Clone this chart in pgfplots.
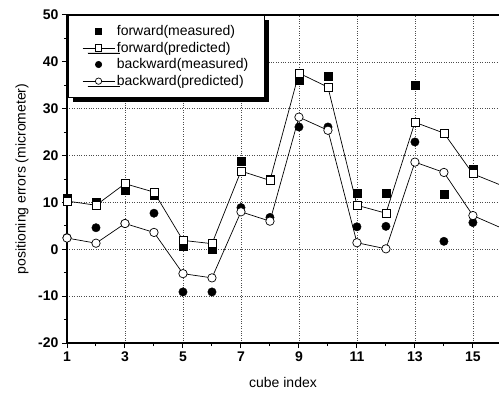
\documentclass[border=0pt]{standalone}
\usepackage{pgfplots}
\pgfplotsset{compat=1.18}
\usepackage{fontspec}
\setmainfont{Liberation Sans}
\usetikzlibrary{shadows}
\begin{document}
\begin{tikzpicture}
\begin{axis}[
  scale only axis,
  width=432pt, height=328pt,
  xmin=1, xmax=15.9, ymin=-20, ymax=50,
  axis x line*=box, axis y line*=left,
  xtick={1,3,...,15}, minor xtick={2,4,...,16},
  ytick={-20,-10,...,50}, minor ytick={-15,-5,...,45},
  xtick pos=bottom, ytick pos=left,
  tick align=outside,
  major tick length=5pt, minor tick length=3pt,
  every tick/.style={black, line width=1pt},
  axis line style={line width=1.6pt},
  grid=major,
  major grid style={black!70, dotted, line width=0.6pt},
  /pgf/number format/assume math mode=true,
  ticklabel style={font=\fontsize{14}{16}\selectfont\bfseries},
  every axis y label/.style={at={(rel axis cs:0,0.5)}, xshift=-45pt, rotate=90, anchor=center, font=\fontsize{14}{16}\selectfont},
  every axis x label/.style={at={(rel axis cs:0.5,0)}, yshift=-39pt, anchor=center, font=\fontsize{14}{16}\selectfont},
  xlabel={cube index},
  ylabel={positioning errors (micrometer)},
  legend cell align=left,
  legend style={at={(0.002,1)}, anchor=north west, font=\fontsize{14}{16}\selectfont,
    draw=black, line width=0.8pt, fill=white, inner xsep=14pt, inner ysep=8pt, row sep=1pt,
    drop shadow={shadow xshift=5pt, shadow yshift=-5pt, fill=black, opacity=1}},
  legend image code/.code={\path (0pt,-3.5pt) (32pt,0pt); \draw[mark repeat=2,mark phase=2] plot coordinates {(0pt,0pt) (16pt,0pt) (32pt,0pt)};},
  legend image post style={line width=0.6pt, mark size=3.2pt},
  every axis plot/.append style={mark size=4.2pt},
]
\addplot[only marks, mark=square*, mark options={fill=black, draw=black}, mark size=4pt,
  legend image code/.code={\path (0pt,-3.5pt) (32pt,0pt); \draw[mark repeat=2,mark phase=2] plot coordinates {(0pt,0pt) (16pt,0pt) (32pt,0pt)};}] coordinates {
(1,10.8) (2,10) (3,12.6) (4,11.5) (5,0.6) (6,0) (7,18.8) (8,15) (9,36) (10,36.9) (11,11.9) (12,11.9) (13,35) (14,11.7) (15,17) (16,12.6)};
\addlegendentry{forward(measured)}
\addplot[black, line width=0.7pt, mark=square*, mark options={fill=white, draw=black, line width=0.7pt}, mark size=4pt] coordinates {
(1,10.3) (2,9.4) (3,14) (4,12.2) (5,1.9) (6,1.2) (7,16.7) (8,14.7) (9,37.6) (10,34.6) (11,9.4) (12,7.7) (13,27.1) (14,24.8) (15,16.1) (16,13.6)};
\addlegendentry{forward(predicted)}
\addplot[only marks, mark=*, mark options={fill=black, draw=black},
  legend image code/.code={\path (0pt,-3.5pt) (32pt,0pt); \draw[mark repeat=2,mark phase=2] plot coordinates {(0pt,0pt) (16pt,0pt) (32pt,0pt)};}] coordinates {
(1,2.5) (2,4.6) (3,5.5) (4,7.7) (5,-9.1) (6,-9.1) (7,8.9) (8,6.8) (9,26.1) (10,26.1) (11,4.8) (12,4.9) (13,22.9) (14,1.7) (15,5.7) (16,6.2)};
\addlegendentry{backward(measured)}
\addplot[black, line width=0.7pt, mark=*, mark options={fill=white, draw=black, line width=0.7pt}] coordinates {
(1,2.4) (2,1.3) (3,5.5) (4,3.6) (5,-5.2) (6,-6.1) (7,8) (8,6) (9,28.2) (10,25.4) (11,1.4) (12,0.1) (13,18.6) (14,16.4) (15,7.2) (16,4.5)};
\addlegendentry{backward(predicted)}
\end{axis}
\pgfresetboundingbox
\path ([xshift=-67pt,yshift=-53pt]current axis.south west) rectangle ([yshift=15pt]current axis.north east);
\end{tikzpicture}
\end{document}
